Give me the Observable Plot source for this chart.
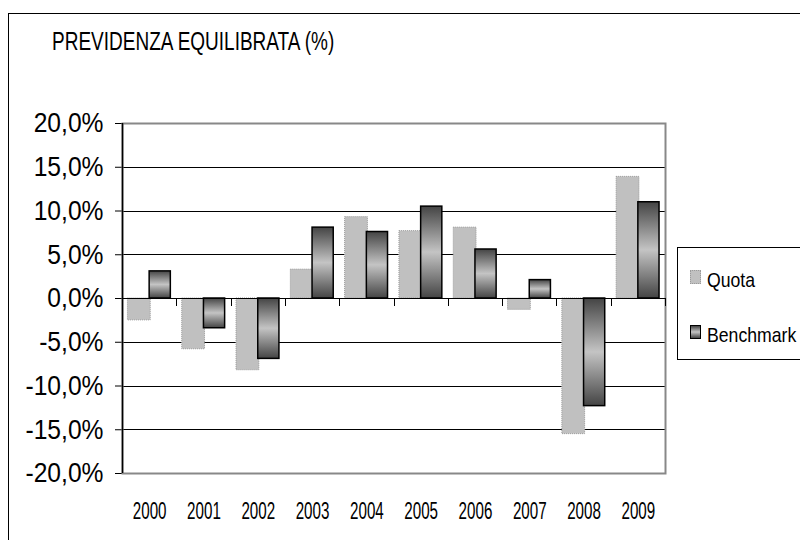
<!DOCTYPE html>
<html>
<head>
<meta charset="utf-8">
<script src="https://cdn.jsdelivr.net/npm/d3@7"></script>
<script src="https://cdn.jsdelivr.net/npm/@observablehq/plot@0.6"></script>
<style>
  html, body { margin: 0; padding: 0; background: #fff; }
  #wrap { position: relative; width: 800px; height: 540px; overflow: hidden; font-family: "Liberation Sans", Arial, sans-serif; }
  #outer { position: absolute; left: 8px; top: 13px; width: 820px; height: 560px; border: 1px solid #000; box-sizing: border-box; }
  #chart { position: absolute; left: 0; top: 0; }
  .t { position: absolute; line-height: 1; white-space: nowrap; transform-origin: 0 50%; color: #000; }
  #title { left: 52px; top: 29px; font-size: 25px; transform: scaleX(0.76); }
  #legend { position: absolute; left: 677px; top: 247px; width: 140px; height: 113px; border: 1px solid #000; box-sizing: border-box; background: #fff; }
  .sw { position: absolute; width: 11px; height: 14px; box-sizing: border-box; }
</style>
</head>
<body>
<div id="wrap">
  <div id="outer"></div>
  <div id="chart"></div>
  <div id="title" class="t">PREVIDENZA EQUILIBRATA (%)</div>
  <div id="legend"></div>
</div>
<script>
const years = [2000, 2001, 2002, 2003, 2004, 2005, 2006, 2007, 2008, 2009];
const quota = [-2.5, -5.8, -8.2, 3.3, 9.3, 7.7, 8.1, -1.3, -15.5, 13.9];
const benchmark = [3.1, -3.4, -6.9, 8.1, 7.6, 10.5, 5.6, 2.1, -12.3, 11.0];
const seriesNames = ["Quota", "Benchmark"];
const yTicks = [-20, -15, -10, -5, 0, 5, 10, 15, 20];

const rows = years.map((y, i) => ({year: y, quota: quota[i], benchmark: benchmark[i]}));
const boundaries = [...years.map(y => y - 0.5), years[years.length - 1] + 0.5];
const fmt = d => d.toFixed(1).replace(".", ",") + "%";

const defs = () => {
  const ns = "http://www.w3.org/2000/svg";
  const d = document.createElementNS(ns, "defs");
  const g = document.createElementNS(ns, "linearGradient");
  g.setAttribute("id", "benchGrad");
  g.setAttribute("x1", "0"); g.setAttribute("y1", "0");
  g.setAttribute("x2", "0"); g.setAttribute("y2", "1");
  [["0", "#444"], ["0.5", "#c4c4c4"], ["1", "#444"]].forEach(([o, c]) => {
    const s = document.createElementNS(ns, "stop");
    s.setAttribute("offset", o); s.setAttribute("stop-color", c);
    g.appendChild(s);
  });
  d.appendChild(g);
  return d;
};

const chart = Plot.plot({
  width: 800,
  height: 540,
  marginLeft: 122,
  marginRight: 135,
  marginTop: 123,
  marginBottom: 67,
  style: {fontFamily: "'Liberation Sans', Arial, sans-serif", fontSize: "22px", color: "#000", background: "transparent"},
  x: {type: "linear", domain: [years[0] - 0.5, years[years.length - 1] + 0.5], ticks: years, tickFormat: d => String(d), tickSize: 0, tickPadding: 29, label: null},
  y: {domain: [-20, 20], ticks: yTicks, tickFormat: fmt, tickSize: 7, tickPadding: 12, label: null},
  marks: [
    defs,
    Plot.ruleY(yTicks.filter(v => v !== 20 && v !== -20 && v !== 0), {stroke: "#000", strokeWidth: 1, shapeRendering: "crispEdges"}),
    Plot.frame({stroke: "#888", strokeWidth: 2}),
    Plot.rect(rows, {x1: d => d.year - 0.40, x2: d => d.year + 0.02, y1: 0, y2: "quota", fill: "#c0c0c0", stroke: "#9a9a9a", strokeWidth: 1, strokeDasharray: "1,1"}),
    Plot.rect(rows, {x1: d => d.year, x2: d => d.year + 0.39, y1: 0, y2: "benchmark", fill: "url(#benchGrad)", stroke: "#000", strokeWidth: 1.5}),
    Plot.ruleY([0], {stroke: "#000", strokeWidth: 1, shapeRendering: "crispEdges"}),
    Plot.ruleX(boundaries.slice(1), {y1: 0, y2: -0.9, stroke: "#000", strokeWidth: 1, shapeRendering: "crispEdges"}),
    Plot.ruleX([boundaries[0]], {stroke: "#000", strokeWidth: 1.5})
  ]
});
document.getElementById("chart").appendChild(chart);

// Condensed look of the original typography: wrap each label so its own
// position transform is kept, then squeeze the text horizontally.
function condense(t, size, sx, origin) {
  const ns = "http://www.w3.org/2000/svg";
  const g = document.createElementNS(ns, "g");
  const tr = t.getAttribute("transform");
  if (tr) { g.setAttribute("transform", tr); t.removeAttribute("transform"); }
  t.parentNode.insertBefore(g, t);
  g.appendChild(t);
  t.style.fontSize = size;
  t.style.transformBox = "fill-box";
  t.style.transformOrigin = origin;
  t.style.transform = `scale(${sx}, 1)`;
}
chart.querySelectorAll('[aria-label^="y-axis"]').forEach(g => {
  g.querySelectorAll("text").forEach(t => condense(t, "28px", 0.88, "100% 50%"));
  g.querySelectorAll("path, line").forEach(p => p.setAttribute("stroke", "#000"));
});
chart.querySelectorAll('[aria-label^="x-axis"]').forEach(g => {
  g.querySelectorAll("text").forEach(t => condense(t, "23px", 0.66, "50% 50%"));
});

// Legend
const legend = document.getElementById("legend");
const items = [
  {name: seriesNames[0], top: 22, bg: "#c0c0c0", border: "1px dotted #9a9a9a"},
  {name: seriesNames[1], top: 77, bg: "linear-gradient(#444, #c4c4c4, #444)", border: "1px solid #000"}
];
items.forEach(it => {
  const sw = document.createElement("div");
  sw.className = "sw";
  sw.style.left = "12px";
  sw.style.top = it.top + "px";
  sw.style.background = it.bg;
  sw.style.border = it.border;
  legend.appendChild(sw);
  const tx = document.createElement("div");
  tx.className = "t";
  tx.textContent = it.name;
  tx.style.left = "29px";
  tx.style.top = (it.top - 1) + "px";
  tx.style.fontSize = "21px";
  tx.style.transform = "scaleX(0.84)";
  legend.appendChild(tx);
});
</script>
</body>
</html>
